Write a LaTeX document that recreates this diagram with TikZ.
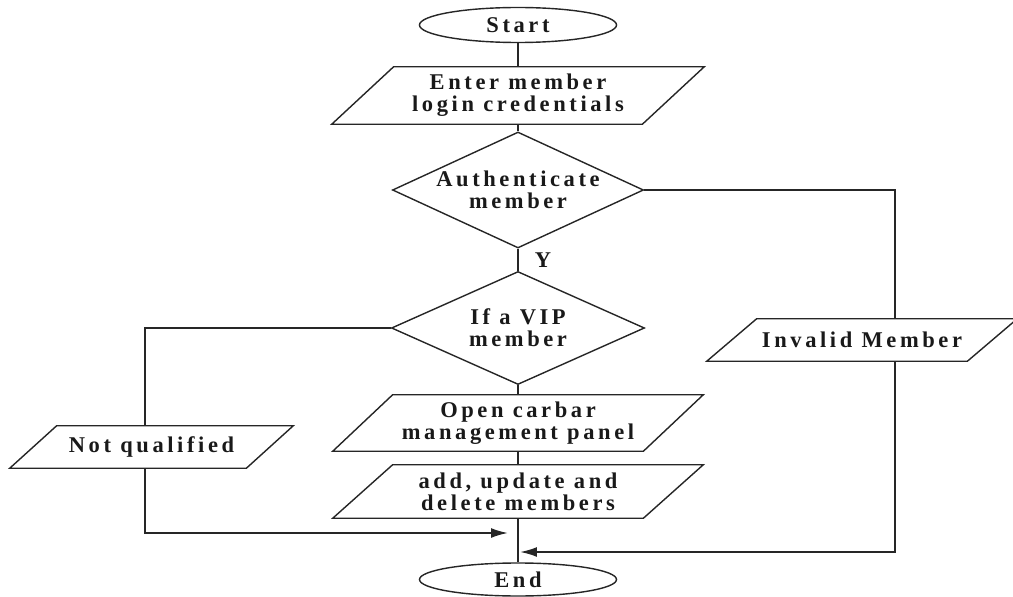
\documentclass[tikz,border=0pt]{standalone}
\usepackage{fontspec}
\newfontfamily\lblfont{Liberation Serif}[LetterSpace=16]
\usetikzlibrary{shapes.geometric,arrows.meta,calc}

% slanted input/output box drawn around a named rectangular node
\newcommand\iopara[2]{%
  \draw[outline] ($(#1.south west)+(-#2,0)$) -- ($(#1.south east)+(-#2,0)$)
    -- ($(#1.north east)+(#2,0)$) -- ($(#1.north west)+(#2,0)$) -- cycle;}

\begin{document}
\begin{tikzpicture}[x=0.025cm,y=-0.025cm,
  every node/.style={font=\lblfont\bfseries\fontsize{16}{15.8}\selectfont, align=center, text=black!90},
  outline/.style={draw=black!85, line width=1pt},
  terminal/.style={ellipse, outline, minimum width=4.925cm, minimum height=0.875cm, inner sep=0pt},
  decision/.style={diamond, outline, inner sep=0pt},
  iobox/.style={rectangle, inner sep=0pt},
  flow/.style={draw=black!85, line width=1.3pt},
  arr/.style={flow, -{Latex[length=12pt,width=7pt]}}
]
\useasboundingbox (0,0) rectangle (1013,597);

% main column
\node[terminal] (start) at (518,25) {Start};
\node[iobox, minimum width=7.75cm, minimum height=1.425cm] (enter) at (518,95.5) {Enter member\\login credentials};
\node[decision, minimum width=6.275cm, minimum height=2.9cm, label=center:{Authenticate\\member}] (auth) at (518,190) {};
\node[decision, minimum width=6.325cm, minimum height=2.825cm, label=center:{If a VIP\\member}] (vip) at (518,328) {};
\node[iobox, minimum width=7.75cm, minimum height=1.4cm] (open) at (518,423) {Open carbar\\management panel};
\node[iobox, minimum width=7.75cm, minimum height=1.325cm] (add) at (518,491.5) {add, update and\\delete members};
\node[terminal, minimum height=0.825cm] (end) at (518,579.5) {End};

% side branches
\node[iobox, minimum width=5.9cm, minimum height=1.05cm] (nq) at (151.5,447) {Not qualified};
\node[iobox, minimum width=6.5cm, minimum height=1.05cm] (inv) at (862,340) {Invalid Member};

\iopara{enter}{31}
\iopara{open}{30}
\iopara{add}{30}
\iopara{nq}{23.5}
\iopara{inv}{25}

% rails and join points
\coordinate (lrail) at (145,0);
\coordinate (rrail) at (895,0);
\coordinate (joinL) at (508,533);
\coordinate (joinR) at (520,552);

\draw[flow] (start.south) -- (enter.north);
\draw[flow] (enter.south) -- (auth.north);
\draw[flow] (auth.south) -- node[right=8pt] (ylbl) {Y} (vip.north);
\draw[flow] (vip.south) -- (open.north);
\draw[flow] (open.south) -- (add.north);
\draw[flow] (add.south) -- (end.north);

\draw[flow] (auth.east) -| (inv.north -| rrail);
\draw[arr] (inv.south -| rrail) |- (joinR);
\draw[flow] (vip.west) -| (nq.north -| lrail);
\draw[arr] (nq.south -| lrail) |- (joinL);
\end{tikzpicture}
\end{document}
